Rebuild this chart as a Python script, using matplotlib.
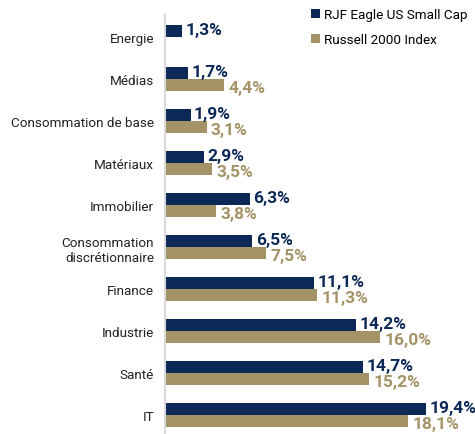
import numpy as np
import matplotlib.pyplot as plt

plt.rcParams['font.family'] = ['Roboto', 'DejaVu Sans']

# data
categories = ["Energie", "Médias", "Consommation de base", "Matériaux", "Immobilier",
              "Consommation\ndiscrétionnaire", "Finance", "Industrie", "Santé", "IT"]
rjf_values = [1.3, 1.7, 1.9, 2.9, 6.3, 6.5, 11.1, 14.2, 14.7, 19.4]
russell_values = [None, 4.4, 3.1, 3.5, 3.8, 7.5, 11.3, 16.0, 15.2, 18.1]
series_names = ["RJF Eagle US Small Cap", "Russell 2000 Index"]

navy = "#0b2856"
gold = "#a39366"

fig = plt.figure(figsize=(4.75, 4.35), dpi=100)
ax = fig.add_axes([165 / 475, 0.0, 310 / 475, 1 - 15 / 435])

y = np.arange(len(categories))
h = 0.28
off = 0.14

ax.barh(y - off, rjf_values, height=h, color=navy, label=series_names[0])
r_y = [yy + off for yy, v in zip(y, russell_values) if v is not None]
r_v = [v for v in russell_values if v is not None]
ax.barh(r_y, r_v, height=h, color=gold, label=series_names[1])

def fmt(v):
    return f"{v:.1f}".replace(".", ",") + "%"

for yy, v in zip(y, rjf_values):
    ax.annotate(fmt(v), (v, yy - off), xytext=(2.5, 1), textcoords="offset points",
                va="center", ha="left", fontsize=12.5, fontweight="bold", color=navy)
for yy, v in zip(r_y, r_v):
    ax.annotate(fmt(v), (v, yy), xytext=(3, -1.5), textcoords="offset points",
                va="center", ha="left", fontsize=12.5, fontweight="bold", color=gold)

ax.set_xlim(0, 310 / 13.45)
ax.set_ylim(len(categories) - 0.55, -0.55)
ax.set_yticks(y)
ax.set_yticklabels(categories, fontsize=9.7, color="#222222")
ax.tick_params(axis="y", length=0, pad=8)
ax.set_xticks([])
for s in ["top", "right", "bottom"]:
    ax.spines[s].set_visible(False)
ax.spines["left"].set_color("#d9d9d9")
ax.spines["left"].set_linewidth(1.5)

ax.legend(loc="upper left", bbox_to_anchor=(302 / 475, 1.0), bbox_transform=fig.transFigure,
          frameon=False, fontsize=9.7, handlelength=0.65, handleheight=0.65,
          handletextpad=0.25, labelspacing=0.85, borderaxespad=0.3)

fig.savefig("out.png", dpi=100)
